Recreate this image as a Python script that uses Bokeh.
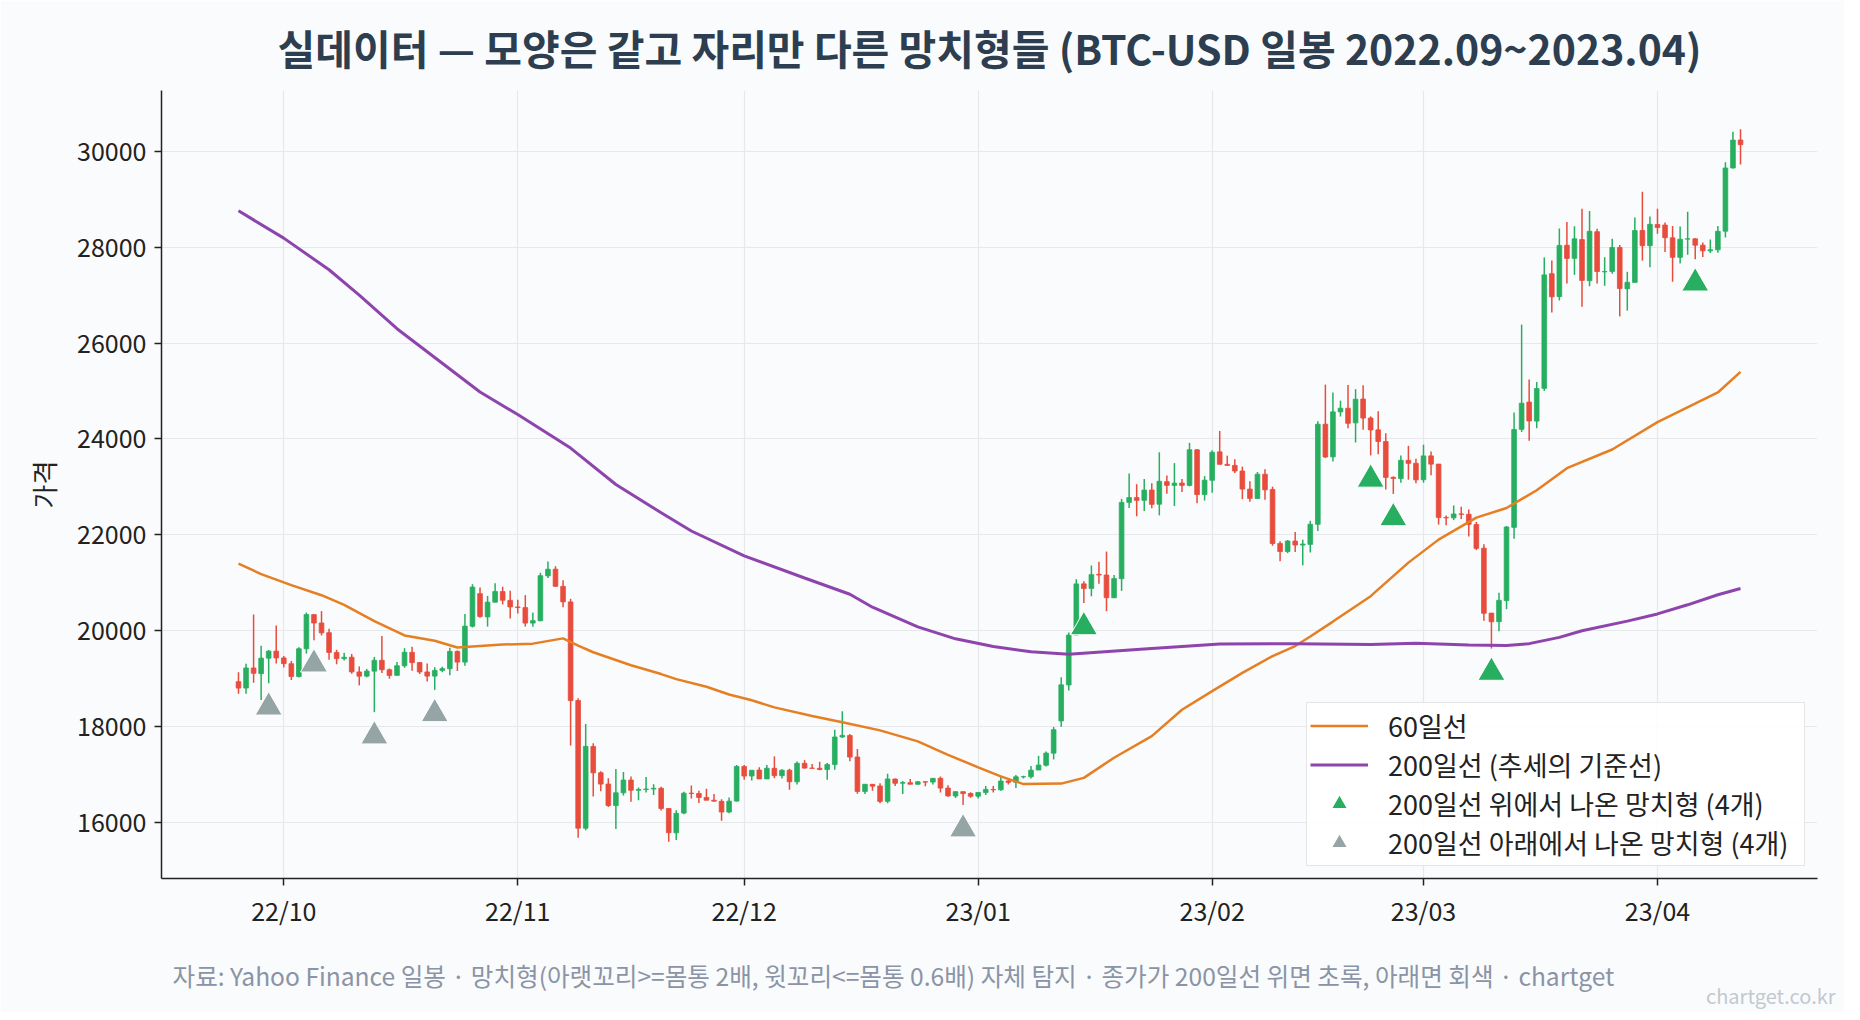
import pandas as pd
from bokeh.plotting import figure
from bokeh.models import ColumnDataSource, Range1d, FixedTicker, Legend, LegendItem, Title
from bokeh.embed import file_html
from bokeh.resources import INLINE

# ---- data (BTC-USD daily) ----
start_day = "2022-09-25"

opens = [
    18937, 18803, 19222, 19104, 19427, 19573,
    19431, 19311, 19044, 19623, 20335, 20161, 19958, 19546, 19417, 19446, 19139, 19052, 19156, 19382, 19185, 19068,
    19268, 19548, 19335, 19139, 19053, 19172, 19207, 19567, 19345, 20093, 20772, 20288, 20595, 20817, 20633,
    20495, 20482, 20159, 20208, 21144, 21283, 20924, 20600, 18543, 15879, 17584, 17036, 16800, 16352, 16618, 16884,
    16670, 16687, 16696, 16713, 16291, 15782, 16195, 16611, 16602, 16521, 16463, 16440, 16217, 16445,
    17168, 16968, 17092, 16908, 17129, 16976, 17090, 16848, 17233, 17134, 17129, 17103, 17207, 17782, 17813, 17365,
    16647, 16795, 16760, 16441, 16904, 16818, 16830, 16796, 16848, 16842, 16920, 16717, 16552, 16642, 16603,
    16548, 16625, 16688, 16680, 16863, 16836, 16953, 16953, 17093, 17193, 17445, 18118, 18868, 19910, 20977, 20882,
    21175, 21161, 20686, 21085, 22677, 22777, 22720, 22935, 22639, 23109, 23031, 23080, 23031, 23774, 22840,
    23138, 23731, 23470, 23449, 23331, 22954, 22757, 23264, 22947, 21820, 21652, 21870, 21787, 21801, 22220, 24307,
    23627, 24565, 24640, 24336, 24833, 24437, 24190, 23946, 23200, 23174, 23554, 23492,
    23150, 23647, 23476, 22362, 22354, 22436, 22428, 22216, 21721, 20367, 20188, 20628, 22156, 24201, 24770, 24373,
    25056, 27448, 26970, 28041, 27769, 28159, 27302, 28324, 27487, 27495, 27994, 27133, 27267, 28350, 28032,
    28474, 28463, 28196, 27790, 28170, 28176, 28043, 27925, 27946, 28336, 29653, 30237,
]
highs = [
    19135, 19310, 20338, 19688, 19597, 20109,
    19472, 19370, 19653, 20380, 20343, 20408, 20041, 19601, 19542, 19515, 19254, 19203, 19453, 19889, 19212, 19346,
    19635, 19666, 19345, 19316, 19237, 19249, 19646, 19589, 20348, 20970, 20900, 20724, 20988, 20917, 20834,
    20647, 20742, 20382, 21209, 21446, 21345, 21053, 20665, 18590, 18054, 17650, 17066, 16920, 17112, 17051, 16960,
    16726, 16947, 16797, 16746, 16291, 16253, 16638, 16771, 16661, 16700, 16594, 16482, 16522, 17198,
    17197, 17088, 17150, 17198, 17378, 17107, 17119, 17272, 17299, 17217, 17266, 17241, 17931, 18319, 17846, 17531,
    16797, 16800, 16818, 17013, 16916, 16866, 16905, 16864, 16860, 16921, 16959, 16777, 16651, 16643, 16628,
    16628, 16760, 16761, 16964, 16884, 16991, 16975, 17176, 17389, 17482, 17992, 19030, 19964, 21075, 21030, 21360,
    21438, 21651, 21163, 22750, 23282, 23056, 23165, 23078, 23722, 23237, 23496, 23166, 23919, 23789, 23225,
    23764, 24167, 23652, 23579, 23423, 23118, 23310, 23367, 23005, 21866, 21891, 22060, 21898, 22293, 24370, 25134,
    24968, 24798, 25126, 25040, 25121, 24472, 24580, 24121, 23218, 23654, 23857, 23589,
    23880, 23739, 23479, 22405, 22613, 22584, 22527, 22268, 21802, 20370, 20792, 22185, 24550, 26386, 25240, 25190,
    27787, 27725, 28390, 28528, 28439, 28803, 28754, 28384, 27792, 28178, 28045, 27488, 28619, 29159, 28639,
    28805, 28518, 28444, 28433, 28739, 28190, 28100, 28159, 28444, 29771, 30410, 30461,
]
lows = [
    18683, 18684, 18915, 18553, 18903, 19315,
    19231, 18970, 19025, 19523, 19801, 19900, 19395, 19299, 19377, 19102, 18860, 19029, 18300, 19115, 18999, 19068,
    19226, 19163, 19097, 18940, 18765, 19134, 19073, 19160, 19269, 20067, 20272, 20086, 20594, 20548, 20254,
    20359, 20087, 20083, 20197, 21097, 20921, 20489, 17604, 15682, 15836, 16543, 16651, 16320, 15862, 16560, 16430,
    16460, 16623, 16570, 16248, 15599, 15633, 16170, 16501, 16404, 16463, 16437, 16036, 16191, 16437,
    16888, 16877, 16910, 16908, 16922, 16918, 16679, 16790, 17124, 17133, 17091, 16888, 17099, 17765, 17277, 16600,
    16592, 16663, 16398, 16399, 16761, 16592, 16794, 16793, 16755, 16789, 16624, 16535, 16508, 16361, 16517,
    16500, 16573, 16622, 16662, 16790, 16716, 16915, 16916, 17093, 17169, 17315, 17995, 18753, 19907, 20578, 20718,
    20978, 20407, 20685, 20831, 22560, 22387, 22496, 22557, 22406, 22858, 22601, 22893, 23012, 22657, 22715,
    22877, 23469, 23439, 23290, 22744, 22692, 22756, 22731, 21772, 21451, 21618, 21641, 21364, 21632, 22082, 23602,
    23530, 24468, 24225, 23927, 24192, 23657, 23679, 22945, 22853, 23085, 23150, 23077,
    23088, 23245, 22213, 22198, 22307, 22331, 21966, 21681, 20210, 19628, 19989, 20448, 21918, 24147, 23964, 24225,
    25002, 26636, 26889, 27242, 27423, 26760, 27186, 27242, 27196, 27448, 26557, 26677, 27259, 27720, 27583,
    28283, 27901, 27280, 27661, 27843, 27749, 27795, 27878, 27883, 28205, 29642, 29725,
]
closes = [
    18802, 19222, 19111, 19427, 19573, 19432,
    19312, 19044, 19623, 20336, 20160, 19955, 19546, 19417, 19446, 19141, 19051, 19157, 19382, 19185, 19067, 19268,
    19550, 19334, 19139, 19053, 19172, 19208, 19567, 19345, 20095, 20910, 20295, 20595, 20818, 20635, 20495,
    20485, 20159, 20209, 21147, 21282, 20926, 20602, 18541, 15880, 17587, 17034, 16799, 16353, 16618, 16884, 16670,
    16687, 16697, 16711, 16291, 15787, 16189, 16610, 16604, 16521, 16464, 16444, 16217, 16444, 17168,
    16967, 17088, 16908, 17130, 16975, 17089, 16848, 17233, 17133, 17128, 17104, 17206, 17782, 17815, 17364, 16647,
    16796, 16757, 16439, 16906, 16817, 16830, 16796, 16847, 16841, 16919, 16717, 16553, 16642, 16602, 16547,
    16625, 16689, 16680, 16863, 16836, 16951, 16955, 17091, 17196, 17446, 17934, 18870, 19909, 20976, 20880, 21169,
    21161, 20688, 21086, 22676, 22777, 22720, 22934, 22636, 23117, 23032, 23078, 23031, 23775, 22840, 23140,
    23723, 23471, 23449, 23332, 22955, 22760, 23264, 22939, 21819, 21651, 21870, 21788, 21808, 22220, 24307, 23624,
    24565, 24641, 24327, 24829, 24436, 24188, 23947, 23198, 23175, 23555, 23492, 23147,
    23646, 23475, 22362, 22354, 22435, 22429, 22219, 21718, 20363, 20187, 20633, 22163, 24197, 24746, 24375, 25052,
    27423, 26966, 28038, 27767, 28175, 27307, 28333, 27493, 27494, 27994, 27139, 27268, 28348, 28033, 28478,
    28411, 28199, 27790, 28168, 28175, 28044, 27925, 27947, 28333, 29653, 30235, 30140,
]

# moving averages, sampled along the curves (day number from start_day, price)
ma60_day = [0, 3, 7, 11, 14, 18, 22, 26, 29, 35, 39, 43, 45, 47, 52, 56, 58, 62, 65, 68, 71, 76, 80, 85, 90,
            94, 98, 101, 104, 109, 112, 116, 121, 125, 129, 133, 137, 140, 142, 145, 150, 155, 159, 164, 168,
            172, 176, 182, 188, 196, 199]
ma60_val = [21400, 21180, 20950, 20740, 20540, 20200, 19900, 19790, 19650, 19710, 19730, 19840, 19690, 19550,
            19280, 19095, 18990, 18830, 18670, 18550, 18400, 18220, 18090, 17920, 17690, 17410, 17150, 16960,
            16800, 16810, 16930, 17350, 17800, 18350, 18740, 19120, 19470, 19680, 19880, 20190, 20720, 21420,
            21900, 22360, 22560, 22930, 23390, 23780, 24350, 24970, 25400]
ma200_day = [0, 6, 12, 16, 21, 27, 32, 37, 44, 50, 56, 60, 67, 75, 81, 84, 90, 95, 100, 105, 110, 120, 130,
             140, 150, 156, 163, 168, 171, 175, 178, 184, 188, 192, 196, 199]
ma200_val = [28760, 28190, 27530, 27000, 26300, 25580, 24980, 24510, 23810, 23050, 22460, 22080, 21560, 21100,
             20760, 20490, 20080, 19830, 19670, 19560, 19510, 19620, 19720, 19730, 19710, 19740, 19700, 19690,
             19730, 19860, 20000, 20200, 20350, 20540, 20750, 20880]

# hammer candles found by the source, split by close vs 200-day line
hammer_above = ["2023-01-15", "2023-02-22", "2023-02-25", "2023-03-10", "2023-04-06"]
hammer_below = ["2022-09-29", "2022-10-05", "2022-10-13", "2022-10-21", "2022-12-30"]

month_ticks = ["2022-10-01", "2022-11-01", "2022-12-01", "2023-01-01", "2023-02-01", "2023-03-01", "2023-04-01"]
month_labels = ["22/10", "22/11", "22/12", "23/01", "23/02", "23/03", "23/04"]
price_ticks = [16000, 18000, 20000, 22000, 24000, 26000, 28000, 30000]

# ---- style ----
FONT = "Noto Sans CJK KR"
BG = "#fafbfc"
INK = "#222222"
UP, DOWN = "#27ae60", "#e74c3c"
GREY_MARK = "#95a5a6"
C60, C200 = "#e67e22", "#8e44ad"
MARK_GAP = 500

dates = pd.date_range(start_day, periods=len(closes), freq="D")
day = pd.Timedelta(days=1)

candles = ColumnDataSource(dict(
    date=dates, open=opens, high=highs, low=lows, close=closes,
    top=[max(o, c) for o, c in zip(opens, closes)],
    bottom=[min(o, c) for o, c in zip(opens, closes)],
    color=[UP if c >= o else DOWN for o, c in zip(opens, closes)],
))


def marks(day_list):
    idx = [dates.get_loc(pd.Timestamp(d)) for d in day_list]
    return ColumnDataSource(dict(date=[dates[i] for i in idx], y=[lows[i] - MARK_GAP for i in idx]))


p = figure(width=1844, height=1012, x_axis_type="datetime",
           x_range=Range1d(dates[0] - 10.2 * day, dates[-1] + 10.2 * day),
           y_range=Range1d(14830, 31270),
           output_backend="svg", toolbar_location=None,
           min_border_left=161, min_border_right=27, min_border_top=89, min_border_bottom=134,
           background_fill_color=BG, border_fill_color=BG,
           title="실데이터 — 모양은 같고 자리만 다른 망치형들 (BTC-USD 일봉 2022.09~2023.04)")
p.outline_line_color = None

p.title.align = "center"
p.title.text_font = FONT
p.title.text_font_size = "41px"
p.title.text_font_style = "bold"
p.title.text_color = "#2c3e50"
p.title.standoff = 28

# candles
p.segment(x0="date", y0="low", x1="date", y1="high", source=candles, line_color="color", line_width=1.5)
p.vbar(x="date", width=0.62 * 86400000, top="top", bottom="bottom", source=candles,
       fill_color="color", line_color="color", line_width=0.8)

# moving averages
r60 = p.line([dates[i] for i in ma60_day], ma60_val, line_color=C60, line_width=2.5)
r200 = p.line([dates[i] for i in ma200_day], ma200_val, line_color=C200, line_width=3)

# hammers
r_up = p.scatter("date", "y", source=marks(hammer_above), marker="triangle", size=27,
                 fill_color=UP, line_color="white", line_width=1)
r_dn = p.scatter("date", "y", source=marks(hammer_below), marker="triangle", size=27,
                 fill_color=GREY_MARK, line_color="white", line_width=1)

# axes
tick_ms = [pd.Timestamp(t).value // 10**6 for t in month_ticks]
p.xaxis.ticker = FixedTicker(ticks=tick_ms)
p.xaxis.major_label_overrides = dict(zip(tick_ms, month_labels))
p.xgrid.ticker = FixedTicker(ticks=tick_ms)
p.yaxis.ticker = FixedTicker(ticks=price_ticks)
p.ygrid.ticker = FixedTicker(ticks=price_ticks)

for ax in (p.xaxis, p.yaxis):
    ax.axis_line_color = INK
    ax.axis_line_width = 1.5
    ax.major_tick_line_color = INK
    ax.major_tick_line_width = 1.5
    ax.major_tick_out = 7
    ax.major_tick_in = 0
    ax.minor_tick_out = 0
    ax.minor_tick_in = 0
    ax.major_label_text_font = FONT
    ax.major_label_text_font_size = "25px"
    ax.major_label_text_color = INK
p.xaxis.major_label_standoff = 6
p.yaxis.major_label_standoff = 8

p.yaxis.axis_label = "가격"
p.yaxis.axis_label_text_font = FONT
p.yaxis.axis_label_text_font_size = "26px"
p.yaxis.axis_label_text_font_style = "normal"
p.yaxis.axis_label_text_color = INK
p.yaxis.axis_label_standoff = 12

p.xgrid.grid_line_color = "#e6e8eb"
p.ygrid.grid_line_color = "#e6e8eb"
p.xgrid.grid_line_width = 1.2
p.ygrid.grid_line_width = 1.2

legend = Legend(items=[
    LegendItem(label="60일선", renderers=[r60]),
    LegendItem(label="200일선 (추세의 기준선)", renderers=[r200]),
    LegendItem(label="200일선 위에서 나온 망치형 (4개)", renderers=[r_up]),
    LegendItem(label="200일선 아래에서 나온 망치형 (4개)", renderers=[r_dn]),
], location="bottom_right", margin=12, padding=3, spacing=0,
    glyph_width=58, glyph_height=39, label_height=39, label_width=413, label_standoff=20,
    label_text_font=FONT, label_text_font_size="27px", label_text_color=INK,
    border_line_color="#cccccc", border_line_width=1.5,
    background_fill_color="white", background_fill_alpha=0.85)
p.add_layout(legend)

# bottom notes: spacer, source line, site mark (pulled up beside the source line)
p.add_layout(Title(text=" ", text_font_size="10px", standoff=11), "below")
footer = Title(text="자료: Yahoo Finance 일봉 · 망치형(아랫꼬리>=몸통 2배, 윗꼬리<=몸통 0.6배) 자체 탐지 · "
                    "종가가 200일선 위면 초록, 아래면 회색 · chartget",
               align="left", offset=11, standoff=0, text_font=FONT, text_font_size="24.6px",
               text_font_style="normal", text_color="#8a94a6")
p.add_layout(footer, "below")
mark = Title(text="chartget.co.kr", align="right", offset=-18, standoff=-27, text_font=FONT,
             text_font_size="20px", text_font_style="normal", text_color="#c3c8d0")
p.add_layout(mark, "below")

open("out.html", "w").write(file_html(p, INLINE))
